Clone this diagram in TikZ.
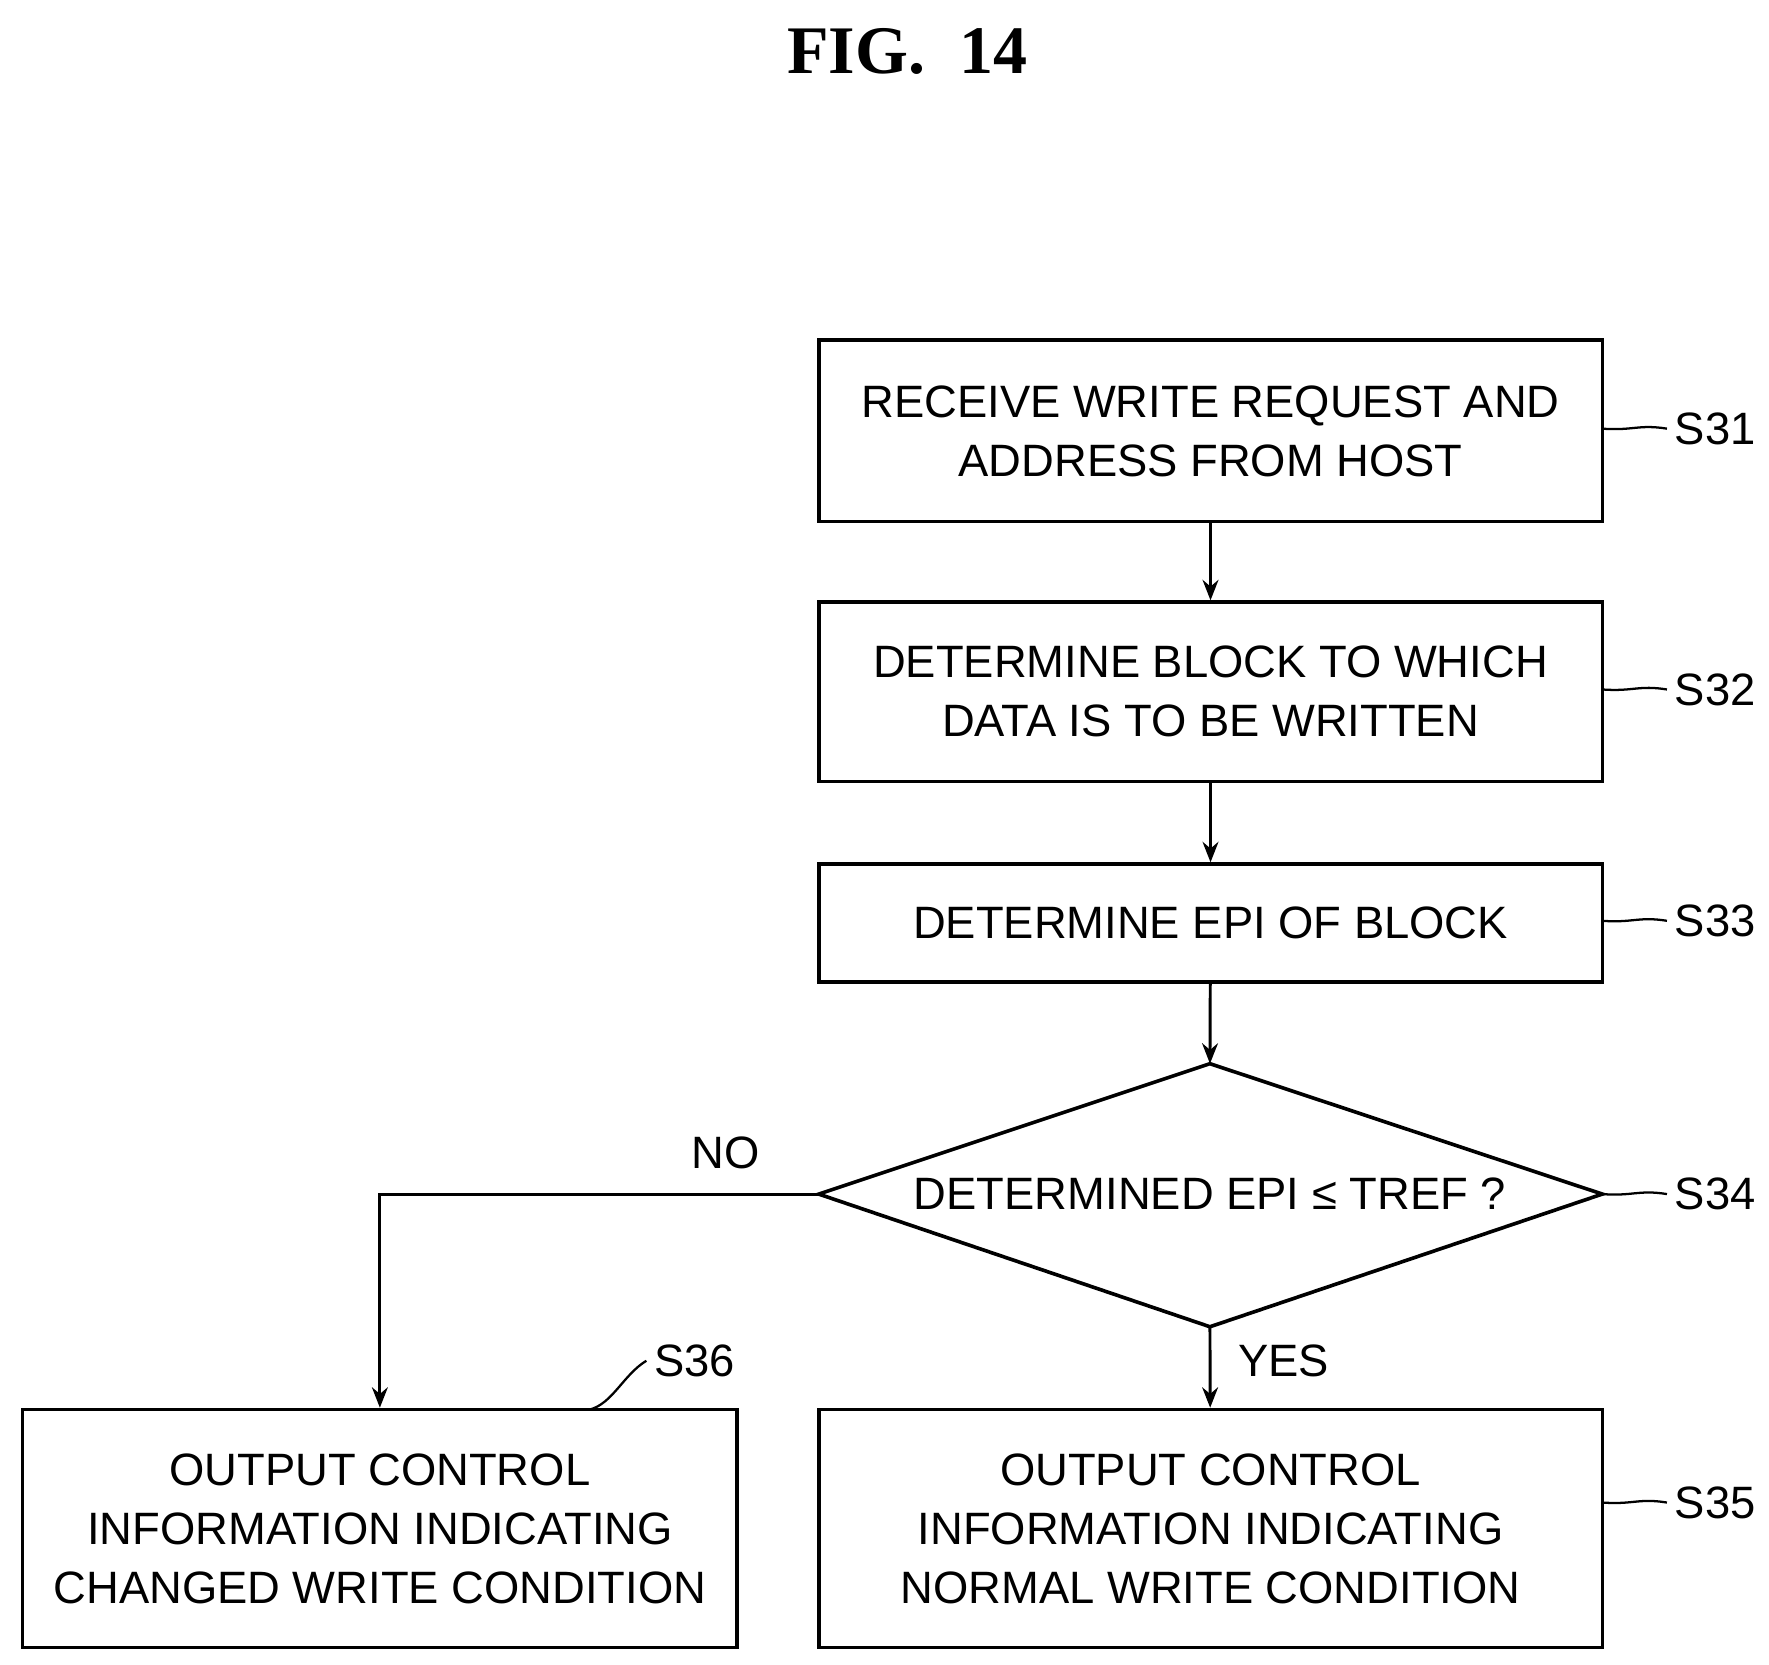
\documentclass[tikz,border=0pt]{standalone}
\usepackage{fontspec}
\setmainfont{Liberation Sans}
\newfontfamily\titlefont{Liberation Serif}
\usetikzlibrary{shapes.geometric,arrows.meta}
\begin{document}
\begin{tikzpicture}[x=0.5pt,y=-0.5pt,
  box/.style={draw,line width=1.6pt,inner sep=0pt,align=center,font=\fontsize{20}{26}\selectfont},
  arr/.style={line width=1.3pt,-{Stealth[length=9pt,width=7pt]}},
  lab/.style={font=\fontsize{20}{24}\selectfont,anchor=west},
  lead/.style={line width=1pt}]
\useasboundingbox (0,0) rectangle (1560,1468);
\node[font=\titlefont\bfseries\fontsize{30}{34}\selectfont] (title) at (800,45) {FIG.\ \ 14};
\node[box,minimum width=345.5pt,minimum height=80pt] (s31) at (1067.5,380) {RECEIVE WRITE REQUEST AND\\ADDRESS FROM HOST};
\node[box,minimum width=345.5pt,minimum height=79pt] (s32) at (1067.5,610) {DETERMINE BLOCK TO WHICH\\DATA IS TO BE WRITTEN};
\node[box,minimum width=345.5pt,minimum height=52pt] (s33) at (1067.5,814) {DETERMINE EPI OF BLOCK};
\coordinate (dt) at (1067,938);
\coordinate (dl) at (722,1053);
\coordinate (dr) at (1413,1053);
\coordinate (db) at (1067,1170);
\draw[line width=1.6pt] (dt) -- (dr) -- (db) -- (dl) -- cycle;
\node[font=\fontsize{20}{24}\selectfont] (s34) at (1067,1053) {DETERMINED EPI ≤ TREF ?};
\node[box,minimum width=315pt,minimum height=105pt] (s36) at (335,1348) {OUTPUT CONTROL\\INFORMATION INDICATING\\CHANGED WRITE CONDITION};
\node[box,minimum width=345.5pt,minimum height=105pt] (s35) at (1067.5,1348) {OUTPUT CONTROL\\INFORMATION INDICATING\\NORMAL WRITE CONDITION};
\draw[arr] (s31) -- (s32);
\draw[arr] (s32) -- (s33);
\draw[arr] (s33) -- (dt);
\draw[arr] (db) -- (s35);
\draw[arr] (dl) -| (s36);
\node[lab,anchor=center] (no) at (640,1017) {NO};
\node[lab,anchor=center] (yes) at (1132,1200) {YES};
\foreach \n/\y/\t in {a/378/S31,b/608/S32,c/812/S33,d/1053/S34,e/1325/S35}{
  \node[lab] (l\n) at (1470,\y) {\t};
  \draw[lead] (1413,\y) .. controls (1440,\y+2) and (1445,\y-4) .. (l\n.west);
}
\node[lab] (l36) at (570,1200) {S36};
\draw[lead] (520,1243) .. controls (540,1238) and (550,1212) .. (l36.west);
\end{tikzpicture}
\end{document}
